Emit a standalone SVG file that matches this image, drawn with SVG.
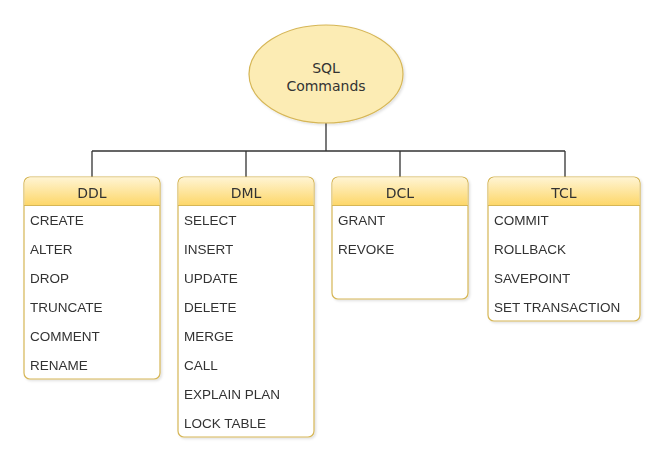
<svg xmlns="http://www.w3.org/2000/svg" width="664" height="454" viewBox="0 0 664 454">
<defs>
<linearGradient id="hg" x1="0" y1="0" x2="0" y2="1">
<stop offset="0" stop-color="#fff4d2"/>
<stop offset="1" stop-color="#fdd76a"/>
</linearGradient>
<filter id="sh" x="-10%" y="-10%" width="130%" height="130%">
<feDropShadow dx="1.5" dy="1.5" stdDeviation="1.2" flood-color="#000" flood-opacity="0.12"/>
</filter>
</defs>
<style>
.box{fill:#ffffff;stroke:#d6b656;stroke-width:1.2}
.hdr{fill:url(#hg)}
.sep{stroke:#d6b656;stroke-width:1}
.ht{font-family:"DejaVu Sans",Verdana,sans-serif;font-size:14px;fill:#333;text-anchor:middle}
.it{font-family:"Liberation Sans",Arial,sans-serif;font-size:13.5px;fill:#333}
.con{fill:none;stroke:#333;stroke-width:1.3}
</style>
<rect width="664" height="454" fill="#fff"/>
<g id="connectors">
<path class="con" d="M326 122 V151 M92 151 H565 M92 151 V177 M246 151 V177 M400 151 V177 M565 151 V177"/>
</g>
<g id="sql">
<ellipse cx="326" cy="74" rx="77" ry="49" fill="#fcecb4" stroke="#d6b656" stroke-width="1.2" filter="url(#sh)"/>
<text class="ht" x="326" y="73">SQL</text>
<text class="ht" x="326" y="91">Commands</text>
</g>
<g id="ddl" filter="url(#sh)">
<rect class="box" x="24" y="177" width="136" height="202" rx="6"/>
<path class="hdr" d="M24.6 205 V183 a5.4 5.4 0 0 1 5.4-5.4 H154 a5.4 5.4 0 0 1 5.4 5.4 V205 Z"/>
<line class="sep" x1="24" y1="205.5" x2="160" y2="205.5"/>
<text class="ht" x="92" y="198">DDL</text>
<text class="it" x="30" y="225">CREATE</text>
<text class="it" x="30" y="254">ALTER</text>
<text class="it" x="30" y="283">DROP</text>
<text class="it" x="30" y="312">TRUNCATE</text>
<text class="it" x="30" y="341">COMMENT</text>
<text class="it" x="30" y="370">RENAME</text>
</g>
<g id="dml" filter="url(#sh)">
<rect class="box" x="178" y="177" width="136" height="260" rx="6"/>
<path class="hdr" d="M178.6 205 V183 a5.4 5.4 0 0 1 5.4-5.4 H308 a5.4 5.4 0 0 1 5.4 5.4 V205 Z"/>
<line class="sep" x1="178" y1="205.5" x2="314" y2="205.5"/>
<text class="ht" x="246" y="198">DML</text>
<text class="it" x="184" y="225">SELECT</text>
<text class="it" x="184" y="254">INSERT</text>
<text class="it" x="184" y="283">UPDATE</text>
<text class="it" x="184" y="312">DELETE</text>
<text class="it" x="184" y="341">MERGE</text>
<text class="it" x="184" y="370">CALL</text>
<text class="it" x="184" y="399">EXPLAIN PLAN</text>
<text class="it" x="184" y="428">LOCK TABLE</text>
</g>
<g id="dcl" filter="url(#sh)">
<rect class="box" x="332" y="177" width="136" height="122" rx="6"/>
<path class="hdr" d="M332.6 205 V183 a5.4 5.4 0 0 1 5.4-5.4 H462 a5.4 5.4 0 0 1 5.4 5.4 V205 Z"/>
<line class="sep" x1="332" y1="205.5" x2="468" y2="205.5"/>
<text class="ht" x="400" y="198">DCL</text>
<text class="it" x="338" y="225">GRANT</text>
<text class="it" x="338" y="254">REVOKE</text>
</g>
<g id="tcl" filter="url(#sh)">
<rect class="box" x="488" y="177" width="152" height="144" rx="6"/>
<path class="hdr" d="M488.6 205 V183 a5.4 5.4 0 0 1 5.4-5.4 H634 a5.4 5.4 0 0 1 5.4 5.4 V205 Z"/>
<line class="sep" x1="488" y1="205.5" x2="640" y2="205.5"/>
<text class="ht" x="564" y="198">TCL</text>
<text class="it" x="494" y="225">COMMIT</text>
<text class="it" x="494" y="254">ROLLBACK</text>
<text class="it" x="494" y="283">SAVEPOINT</text>
<text class="it" x="494" y="312">SET TRANSACTION</text>
</g>
</svg>
